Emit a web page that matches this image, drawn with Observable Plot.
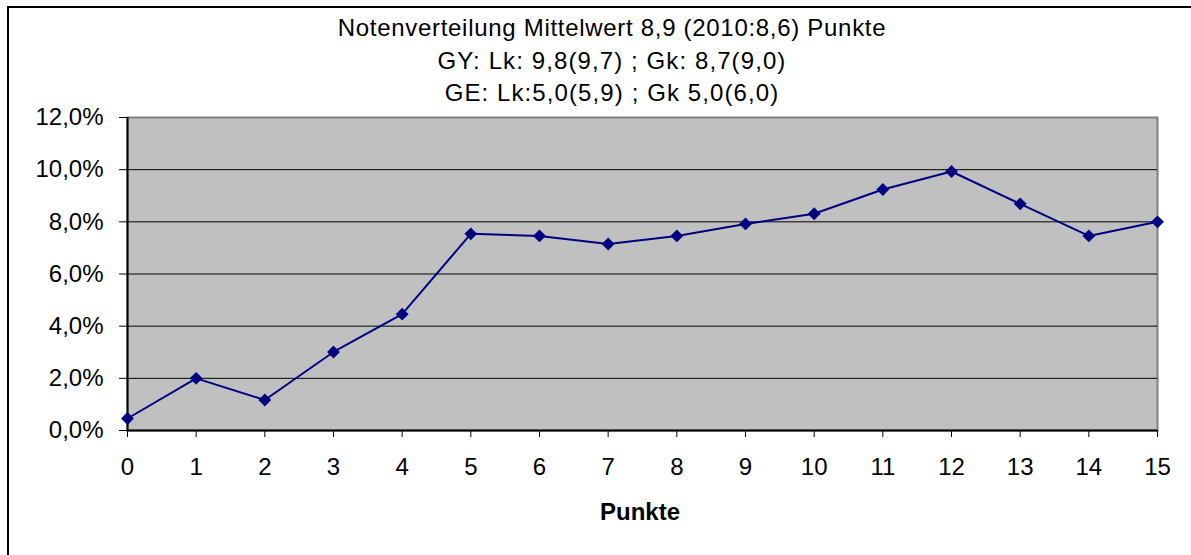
<!DOCTYPE html>
<html>
<head>
<meta charset="utf-8">
<script src="https://cdn.jsdelivr.net/npm/d3@7"></script>
<script src="https://cdn.jsdelivr.net/npm/@observablehq/plot@0.6"></script>
<style>
  html, body { margin: 0; padding: 0; background: #fff; width: 1191px; height: 555px; overflow: hidden; }
  body { position: relative; font-family: "Liberation Sans", Arial, sans-serif; color: #000; }
  #frame { position: absolute; left: 7px; top: 6px; width: 1400px; height: 800px; border-left: 2px solid #000; border-top: 2px solid #000; }
  #title { position: absolute; left: 262px; width: 700px; top: 12px; text-align: center; font-size: 24px; line-height: 32.5px; letter-spacing: 0.7px; }
  #title div + div { letter-spacing: 1.1px; }
  #chart { position: absolute; left: 0; top: 100px; }
  #xlabel { position: absolute; left: 540px; width: 200px; top: 500px; text-align: center; font-size: 24px; line-height: 24px; font-weight: bold; }
</style>
</head>
<body>
<div id="frame"></div>
<div id="title"></div>
<div id="chart"></div>
<div id="xlabel"></div>
<script>
const titleLines = [
  "Notenverteilung Mittelwert 8,9 (2010:8,6) Punkte",
  "GY: Lk: 9,8(9,7) ; Gk: 8,7(9,0)",
  "GE: Lk:5,0(5,9) ; Gk 5,0(6,0)"
];
const xTitle = "Punkte";
const points = [0, 1, 2, 3, 4, 5, 6, 7, 8, 9, 10, 11, 12, 13, 14, 15];
const shares = [0.46, 2.0, 1.17, 3.01, 4.46, 7.54, 7.46, 7.15, 7.46, 7.92, 8.31, 9.24, 9.93, 8.69, 7.46, 8.0];
const yTicks = [0, 2, 4, 6, 8, 10, 12];
const gridTicks = [2, 4, 6, 8, 10];

const data = points.map((p, i) => ({punkte: p, anteil: shares[i]}));

document.getElementById("title").innerHTML = titleLines.map(t => `<div>${t}</div>`).join("");
document.getElementById("xlabel").textContent = xTitle;

const fmt = d => d.toFixed(1).replace(".", ",") + "%";

const chart = Plot.plot({
  width: 1191,
  height: 455,
  marginLeft: 127,
  marginRight: 34,
  marginTop: 17,
  marginBottom: 125,
  style: {fontFamily: '"Liberation Sans", Arial, sans-serif', fontSize: "24px", color: "#000", background: "transparent", overflow: "visible"},
  x: {domain: [0, 15]},
  y: {domain: [0, 12]},
  marks: [
    Plot.frame({fill: "#c0c0c0", stroke: "#808080", strokeWidth: 2}),
    Plot.ruleY(gridTicks, {stroke: "#000", strokeWidth: 1}),
    Plot.ruleY([0], {stroke: "#000", strokeWidth: 2}),
    Plot.ruleX([0], {stroke: "#000", strokeWidth: 2}),
    Plot.axisY({ticks: yTicks, tickFormat: fmt, tickSize: 8, tickPadding: 16, label: null, fontSize: 24, stroke: "#000", strokeWidth: 1}),
    Plot.axisX({ticks: points, tickFormat: d => String(d), tickSize: 7, tickPadding: 20, label: null, fontSize: 24, stroke: "#000", strokeWidth: 1}),
    Plot.line(data, {x: "punkte", y: "anteil", stroke: "#000080", strokeWidth: 2}),
    Plot.dot(data, {x: "punkte", y: "anteil", symbol: "diamond2", r: 5.8, fill: "#000080", stroke: "none"})
  ]
});
document.getElementById("chart").appendChild(chart);
</script>
</body>
</html>
